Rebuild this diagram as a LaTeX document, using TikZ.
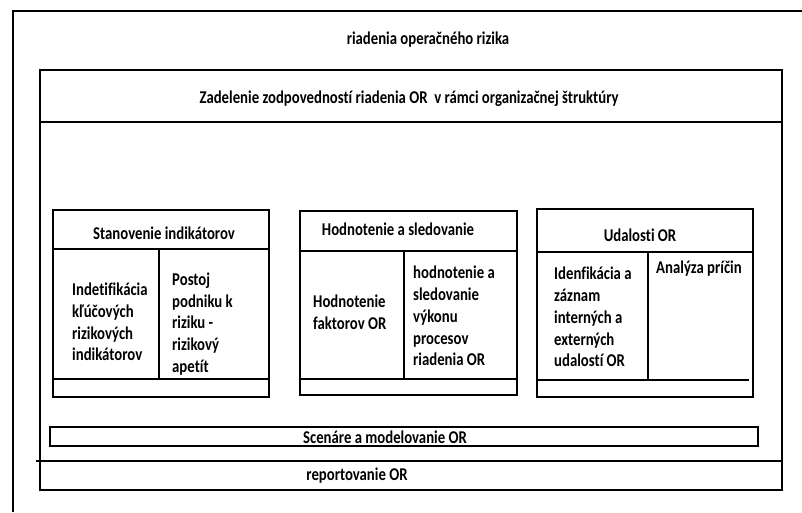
\documentclass[tikz,border=0pt]{standalone}
\usepackage{fontspec}
\setmainfont[FakeStretch=0.82,Ligatures=NoCommon]{Carlito}
\begin{document}
\begin{tikzpicture}[x=1pt,y=-1pt,
  frame/.style={line width=2.6pt},
  thinframe/.style={line width=2.2pt},
  lbl/.style={font=\bfseries\fontsize{18}{21.8}\selectfont, inner sep=0pt},
  para/.style={lbl, align=left, anchor=west}
]
\useasboundingbox (0,0) rectangle (802,512);
\fill[white] (0,0) rectangle (802,512);

% outer frame, open to the right and bottom
\draw[frame] (13,512) -- (13,11) -- (802,11);
\node[lbl] (title) at (428,40) {riadenia operačného rizika};

% main block
\draw[frame] (40,70) rectangle (782,490);
\draw[frame] (40,122) -- (782,122);
\node[lbl] (zadelenie) at (409,99) {Zadelenie zodpovedností riadenia OR\ \ v rámci organizačnej štruktúry};

% block 1
\draw[frame] (53,210) rectangle (269,397);
\draw[frame] (53,249) -- (269,249);
\draw[thinframe] (159,249) -- (159,379);
\draw[thinframe] (53,379) -- (269,379);
\node[lbl] (stan) at (164,233) {Stanovenie indikátorov};
\node[para] (kri) at (72,322) {Indetifikácia\\kľúčových\\rizikových\\indikátorov};
\node[para] (apetit) at (172,324) {Postoj\\podniku k\\riziku -\\rizikový\\apetít};

% block 2
\draw[frame] (300,211) rectangle (517,395);
\draw[frame] (300,251) -- (517,251);
\draw[thinframe] (404,251) -- (404,379);
\draw[thinframe] (300,379) -- (517,379);
\node[lbl] (hods) at (398,229) {Hodnotenie a sledovanie};
\node[para] (faktory) at (313,312) {Hodnotenie\\faktorov OR};
\node[para] (vykon) at (413,316) {hodnotenie a\\sledovanie\\výkonu\\procesov\\riadenia OR};

% block 3
\draw[frame] (537,209) rectangle (753,397);
\draw[frame] (537,252) -- (753,252);
\draw[thinframe] (648,252) -- (648,381);
\draw[thinframe] (537,380) -- (749,380);
\node[lbl] (udal) at (640,235) {Udalosti OR};
\node[para] (zaznam) at (554,317) {Idenfikácia a\\záznam\\interných a\\externých\\udalostí OR};
\node[para] (pricin) at (656,269) {Analýza príčin};

% scenarios bar
\draw[frame] (50,427) rectangle (758,446);
\node[lbl] (scen) at (385,437) {Scenáre a modelovanie OR};

% reporting strip
\draw[frame] (36,461) -- (782,461);
\node[lbl] (report) at (357,476) {reportovanie OR};
\end{tikzpicture}
\end{document}
